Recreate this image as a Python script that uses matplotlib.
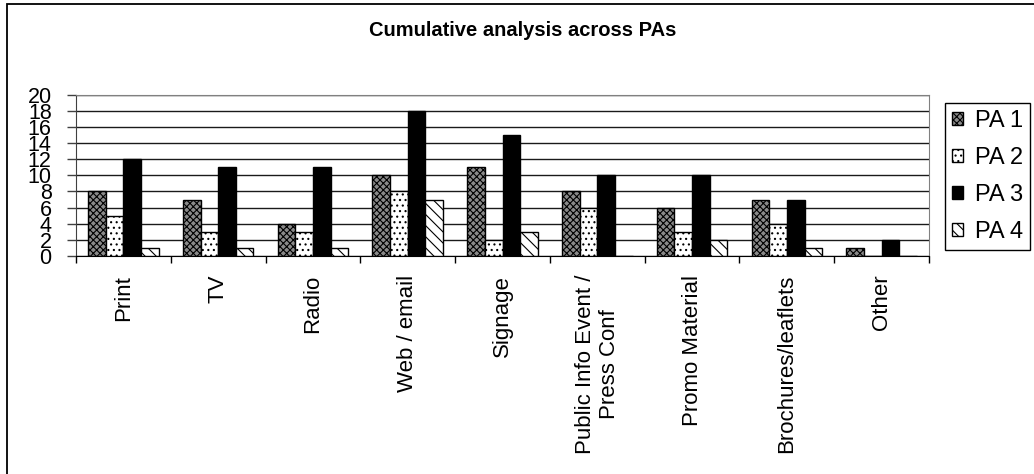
import numpy as np
import matplotlib
matplotlib.use("Agg")
import matplotlib.pyplot as plt
from matplotlib.patches import Rectangle

plt.rcParams['font.family'] = ['Liberation Sans', 'DejaVu Sans']
plt.rcParams['hatch.linewidth'] = 0.8

# media counts per PA
categories = ['Print', 'TV', 'Radio', 'Web / email', 'Signage',
              'Public Info Event /\nPress Conf', 'Promo Material',
              'Brochures/leaflets', 'Other']
pa1 = [8, 7, 4, 10, 11, 8, 6, 7, 1]
pa2 = [5, 3, 3, 8, 2, 6, 3, 4, 0]
pa3 = [12, 11, 11, 18, 15, 10, 10, 7, 2]
pa4 = [1, 1, 1, 7, 3, 0, 2, 1, 0]
series_names = ['PA 1', 'PA 2', 'PA 3', 'PA 4']

fig = plt.figure(figsize=(10.34, 4.74), dpi=100)
ax = fig.add_axes([0.0735, 0.46, 0.825, 0.34])

x = np.arange(len(categories))
w = 0.186
styles = [
    dict(facecolor='#8a8a8a', hatch='xxxxx'),
    dict(facecolor='white', hatch='...'),
    dict(facecolor='black', hatch=None),
    dict(facecolor='white', hatch='\\\\\\'),
]
for k, (vals, st) in enumerate(zip([pa1, pa2, pa3, pa4], styles)):
    ax.bar(x + (k - 1.5) * w, vals, width=w, edgecolor='black', linewidth=1,
           label=series_names[k], zorder=3, **st)

ax.set_xlim(-0.5, len(categories) - 0.5)
ax.set_ylim(0, 20)
ax.set_yticks(range(0, 21, 2))
ax.yaxis.grid(True, color='#1a1a1a', linewidth=1, zorder=0)
ax.set_axisbelow(True)

# tick marks between groups, labels under the group centres
ax.set_xticks(np.arange(-0.5, len(categories), 1))
ax.set_xticklabels([])
ax.set_xticks(x, minor=True)
ax.set_xticklabels(categories, minor=True, rotation=90, ha='center', va='top',
                   multialignment='center', fontsize=16)
ax.tick_params(axis='x', which='major', direction='out', length=5, width=1)
ax.tick_params(axis='x', which='minor', length=0, pad=13.5)
ax.tick_params(axis='y', direction='out', length=6.5, width=1, pad=11,
               labelsize=15.5, color='#404040')

for side in ['top', 'right']:
    ax.spines[side].set_color('#808080')
ax.spines['left'].set_color('#404040')
ax.spines['bottom'].set_color('black')

fig.text(523 / 1034, 1 - 31 / 474, 'Cumulative analysis across PAs',
         ha='center', va='center', fontsize=14.5, fontweight='bold')

leg = ax.legend(loc='lower left', bbox_to_anchor=(945 / 1034, 1 - 250 / 474),
                bbox_transform=fig.transFigure, fontsize=17, frameon=True,
                fancybox=False, edgecolor='black', framealpha=1,
                handlelength=0.47, handleheight=0.47, handletextpad=0.5,
                labelspacing=0.63, borderpad=0.3, borderaxespad=0)
leg.get_frame().set_linewidth(1)

# outer chart border
fig.patches.append(Rectangle((7 / 1034, -0.1), 1.2, 1.1 - 4 / 474,
                             transform=fig.transFigure, fill=False,
                             edgecolor='black', linewidth=1.3))

fig.savefig('out.png', dpi=100)
